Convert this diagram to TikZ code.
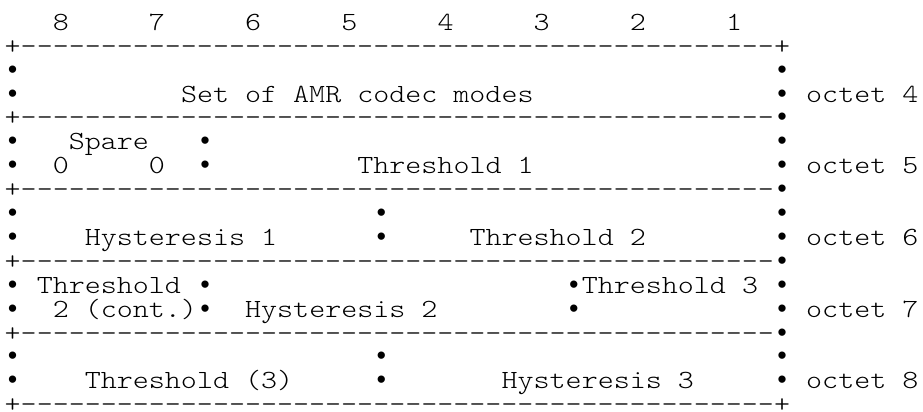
\documentclass[tikz,border=0pt]{standalone}
\usepackage{fontspec}
\newfontfamily\mono{lmmonolt10-regular.otf}[FakeStretch=1.165, Ligatures=TeXOff]
\newfontfamily\bulfont{Liberation Mono}
\newcommand\cellat[4]{\node[txt] (#1) at ({4.7+16.03*(#3)},{54.2+23.9*((#2)-2)}) {#4};}
\newcommand\hdash{-----------------------------------------------}
\newcommand\bu{{\bulfont\fontsize{26.72pt}{24pt}\selectfont •}}
\tikzset{txt/.style={anchor=base west, inner sep=0pt, outer sep=0pt,
  font={\mono\fontsize{26.2pt}{24pt}\selectfont}}}
\begin{document}
\begin{tikzpicture}[x=1pt,y=-1pt]
\useasboundingbox[fill=white] (0,0) rectangle (923,412);
% bit numbers
\cellat{b8}{1}{3}{8}
\cellat{b7}{1}{9}{7}
\cellat{b6}{1}{15}{6}
\cellat{b5}{1}{21}{5}
\cellat{b4}{1}{27}{4}
\cellat{b3}{1}{33}{3}
\cellat{b2}{1}{39}{2}
\cellat{b1}{1}{45}{1}
% row 2
\cellat{tl}{2}{0}{+}
\cellat{top}{2}{1}{\hdash}
\cellat{tr}{2}{48}{+}
% octet 4
\cellat{a3l}{3}{0}{\bu}
\cellat{a3r}{3}{48}{\bu}
\cellat{a4l}{4}{0}{\bu}
\cellat{amr}{4}{11}{Set of AMR codec modes}
\cellat{a4r}{4}{48}{\bu}
\cellat{o4}{4}{50}{octet 4}
\cellat{s5l}{5}{0}{+}
\cellat{s5}{5}{1}{\hdash}
\cellat{s5r}{5}{48}{\bu}
% octet 5
\cellat{a6l}{6}{0}{\bu}
\cellat{spare}{6}{4}{Spare}
\cellat{a6m}{6}{12}{\bu}
\cellat{a6r}{6}{48}{\bu}
\cellat{a7l}{7}{0}{\bu}
\cellat{z1}{7}{3}{0}
\cellat{z2}{7}{9}{0}
\cellat{a7m}{7}{12}{\bu}
\cellat{th1}{7}{22}{Threshold 1}
\cellat{a7r}{7}{48}{\bu}
\cellat{o5}{7}{50}{octet 5}
\cellat{s8l}{8}{0}{+}
\cellat{s8}{8}{1}{\hdash}
\cellat{s8r}{8}{48}{\bu}
% octet 6
\cellat{a9l}{9}{0}{\bu}
\cellat{a9m}{9}{23}{\bu}
\cellat{a9r}{9}{48}{\bu}
\cellat{a10l}{10}{0}{\bu}
\cellat{hy1}{10}{5}{Hysteresis 1}
\cellat{a10m}{10}{23}{\bu}
\cellat{th2}{10}{29}{Threshold 2}
\cellat{a10r}{10}{48}{\bu}
\cellat{o6}{10}{50}{octet 6}
\cellat{s11l}{11}{0}{+}
\cellat{s11}{11}{1}{\hdash}
\cellat{s11r}{11}{48}{\bu}
% octet 7
\cellat{a12l}{12}{0}{\bu}
\cellat{th2a}{12}{2}{Threshold}
\cellat{a12m}{12}{12}{\bu}
\cellat{a12n}{12}{35}{\bu}
\cellat{th3}{12}{36}{Threshold 3}
\cellat{a12r}{12}{48}{\bu}
\cellat{a13l}{13}{0}{\bu}
\cellat{th2b}{13}{3}{2 (cont.)}
\cellat{a13m}{13}{12}{\bu}
\cellat{hy2}{13}{15}{Hysteresis 2}
\cellat{a13n}{13}{35}{\bu}
\cellat{a13r}{13}{48}{\bu}
\cellat{o7}{13}{50}{octet 7}
\cellat{s14l}{14}{0}{+}
\cellat{s14}{14}{1}{\hdash}
\cellat{s14r}{14}{48}{\bu}
% octet 8
\cellat{a15l}{15}{0}{\bu}
\cellat{a15m}{15}{23}{\bu}
\cellat{a15r}{15}{48}{\bu}
\cellat{a16l}{16}{0}{\bu}
\cellat{th3b}{16}{5}{Threshold (3)}
\cellat{a16m}{16}{23}{\bu}
\cellat{hy3}{16}{31}{Hysteresis 3}
\cellat{a16r}{16}{48}{\bu}
\cellat{o8}{16}{50}{octet 8}
\cellat{bl}{17}{0}{+}
\cellat{bot}{17}{1}{\hdash}
\cellat{br}{17}{48}{+}
\end{tikzpicture}
\end{document}
